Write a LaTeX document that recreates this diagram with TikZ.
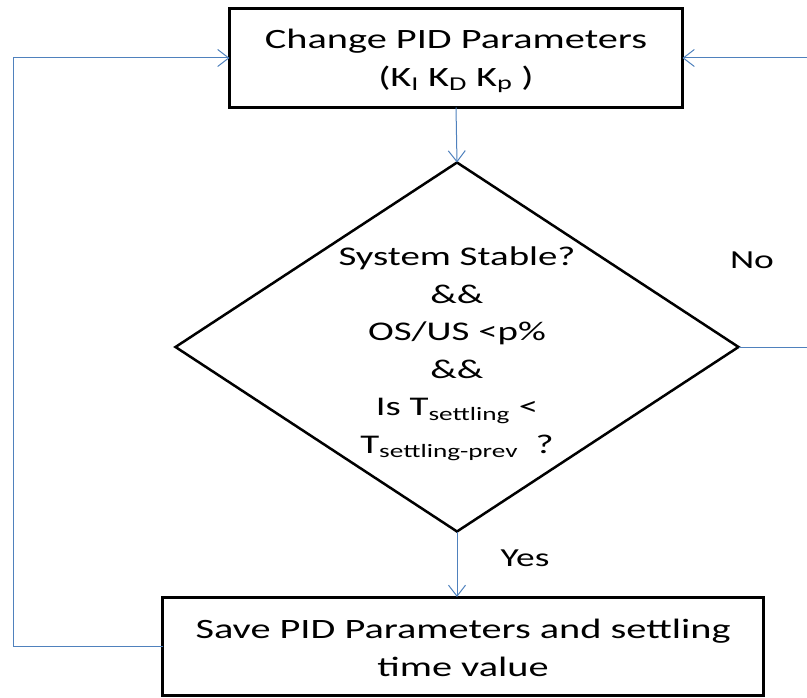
\documentclass[tikz,border=0pt]{standalone}
\usepackage{fontspec}
\setmainfont{Carlito}[FakeStretch=1.44]
\usetikzlibrary{shapes.geometric,arrows.meta}
\definecolor{linkblue}{RGB}{79,129,189}
\tikzset{
  procbox/.style={draw=black, line width=3pt, fill=white, align=center, inner sep=0pt, outer sep=0pt, font=\fontsize{28}{37.5}\selectfont},
  decision/.style={draw=black, line width=2.5pt, diamond, inner sep=0pt, outer sep=0pt},
  dtext/.style={align=center, inner sep=0pt, font=\fontsize{27}{37.5}\selectfont},
  lbl/.style={inner sep=0pt, font=\fontsize{26}{30}\selectfont},
  conn/.style={draw=linkblue, line width=1pt, -{Straight Barb[length=11pt,width=17pt,line width=1pt]}},
  plain/.style={draw=linkblue, line width=1pt}
}
\begin{document}
\begin{tikzpicture}[x=1pt,y=-1pt]
\useasboundingbox (0,0) rectangle (807,698);
\node[procbox, minimum width=453, minimum height=99] (top) at (456,58) {};
\node[procbox, draw=none, fill=none] (toptext) at (456,61) {Change PID Parameters\\(K\textsubscript{I} K\textsubscript{D} K\textsubscript{p} )};
\node[decision, minimum width=563, minimum height=369] (d) at (457,347) {};
\node[dtext] (dt) at (457,354) {System Stable?\\\&\&\\OS/US <p\%\\\&\&\\Is T\textsubscript{settling} <\\T\textsubscript{settling-prev}\ \ ?};
\node[procbox, minimum width=601, minimum height=98] (bot) at (463,646) {};
\node[procbox, draw=none, fill=none] (bottext) at (463,648) {Save PID Parameters and settling\\time value};
\node[lbl] (no) at (752,260) {No};
\node[lbl] (yes) at (525,558) {Yes};
\coordinate (lc) at (13,646);
\coordinate (rc) at (830,347);
\draw[conn] (top.south) -- (d.north);
\draw[conn] (d.south) -- (d.south |- bot.north);
\draw[conn] (bot.west) -- (lc) |- (top.west);
\draw[conn] (d.east) -- (rc) |- (top.east);
\end{tikzpicture}
\end{document}
